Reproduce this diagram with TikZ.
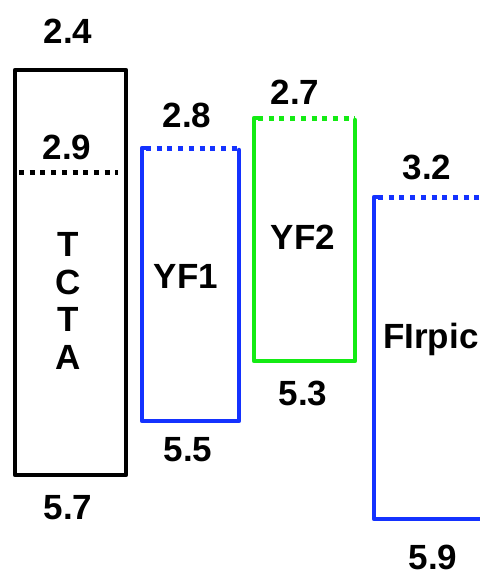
\documentclass[tikz,border=0pt]{standalone}
\usepackage{fontspec}
\setmainfont{Liberation Sans}
\definecolor{lvblue}{RGB}{20,50,255}
\definecolor{lvgreen}{RGB}{20,235,20}
\begin{document}
\begin{tikzpicture}[x=1pt,y=-1pt,
  lvl/.style={line width=4.5pt,line join=round,line cap=round},
  dotlvl/.style={line width=5pt,line cap=butt,dash pattern=on 5pt off 5.7pt},
  lab/.style={inner sep=0pt,font=\fontsize{35}{42}\bfseries\selectfont}]
\useasboundingbox (0,0) rectangle (480,574);
% TCTA
\draw[lvl,black] (15,70) rectangle (126,475);
\draw[dotlvl,black] (19,172) -- (118,172);
% YF1
\draw[dotlvl,lvblue] (146,148) -- (239,148);
\draw[lvl,lvblue] (142,150) |- (239,421) -- (239,150);
\draw[lvl,lvblue] (142,150) -- (142,148) -- (146,148);
% YF2
\draw[dotlvl,lvgreen] (258,118) -- (355,118);
\draw[lvl,lvgreen] (254,120) |- (355,361) -- (355,120);
\draw[lvl,lvgreen] (254,120) -- (254,118) -- (258,118);
% FIrpic
\draw[dotlvl,lvblue] (378,197) -- (482,197);
\draw[lvl,lvblue] (374,199) |- (484,519);
\draw[lvl,lvblue] (374,199) -- (374,197) -- (378,197);
% labels
\node[lab] (t24) at (68,31) {2.4};
\node[lab] (t29) at (67,147) {2.9};
\node[lab] (t57) at (68,508) {5.7};
\node[lab,align=center,font=\fontsize{35}{37.5}\bfseries\selectfont] (tcta) at (68,301) {T\\C\\T\\A};
\node[lab] (y28) at (187,115) {2.8};
\node[lab] (y55) at (188,450) {5.5};
\node[lab] (yf1) at (186,276) {YF1};
\node[lab] (g27) at (295,92) {2.7};
\node[lab] (yf2) at (303,237) {YF2};
\node[lab] (g53) at (303,393) {5.3};
\node[lab] (f32) at (427,167) {3.2};
\node[lab] (f59) at (433,557) {5.9};
\node[lab,anchor=base west] (firpic) at (383,348) {FIrpic};
\end{tikzpicture}
\end{document}
